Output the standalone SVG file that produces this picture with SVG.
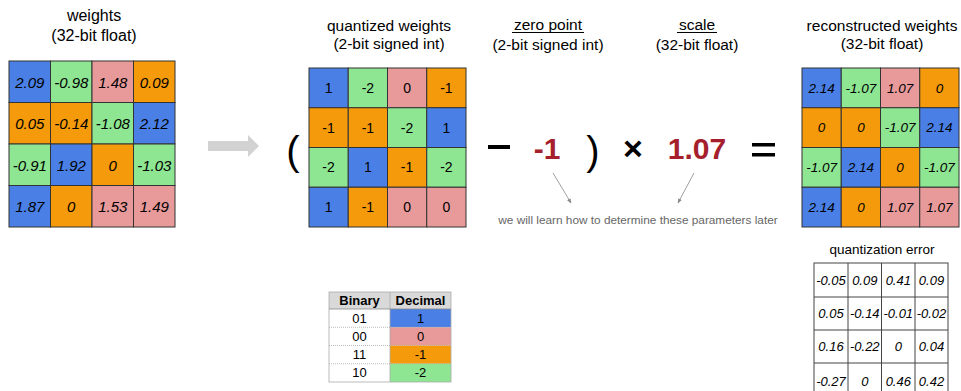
<svg xmlns="http://www.w3.org/2000/svg" width="961" height="391" viewBox="0 0 961 391">
<defs>
<style>
text{font-family:"Liberation Sans",Arial,sans-serif;fill:#000}
.t{font-size:16px;text-anchor:middle}
.ts{font-size:15.5px;text-anchor:middle}
.b{fill:#4a80e6}.g{fill:#8ee592}.p{fill:#e89a9a}.o{fill:#f59a0a}
.c rect{stroke:#333;stroke-width:1}
.fv{font-size:15px;font-style:italic;text-anchor:middle;dominant-baseline:central}
.rv{font-size:13.5px;font-style:italic;text-anchor:middle;dominant-baseline:central}
.iv{font-size:14px;text-anchor:middle;dominant-baseline:central}
.ev{font-size:13px;font-style:italic;text-anchor:middle;dominant-baseline:central}
.op{font-size:40px;text-anchor:middle;dominant-baseline:central}
.red{fill:#a51f2c;font-weight:bold;font-size:30px;text-anchor:middle}
.bt{font-size:13px;text-anchor:middle;dominant-baseline:central}
</style>
<marker id="ah" viewBox="0 0 10 10" refX="9" refY="5" markerWidth="6" markerHeight="6" orient="auto"><path d="M0,1 L10,5 L0,9 z" fill="#888"/></marker>
</defs>

<g id="weights">
<text class="t" x="94" y="21">weights</text>
<text class="t" x="94" y="41">(32-bit float)</text>
<g class="c">
<rect class="b" x="9" y="61" width="41.5" height="41.5"/><rect class="g" x="50.5" y="61" width="41.5" height="41.5"/><rect class="p" x="92" y="61" width="41.5" height="41.5"/><rect class="o" x="133.5" y="61" width="41.5" height="41.5"/>
<rect class="o" x="9" y="102.5" width="41.5" height="41.5"/><rect class="o" x="50.5" y="102.5" width="41.5" height="41.5"/><rect class="g" x="92" y="102.5" width="41.5" height="41.5"/><rect class="b" x="133.5" y="102.5" width="41.5" height="41.5"/>
<rect class="g" x="9" y="144" width="41.5" height="41.5"/><rect class="b" x="50.5" y="144" width="41.5" height="41.5"/><rect class="o" x="92" y="144" width="41.5" height="41.5"/><rect class="g" x="133.5" y="144" width="41.5" height="41.5"/>
<rect class="b" x="9" y="185.5" width="41.5" height="41.5"/><rect class="o" x="50.5" y="185.5" width="41.5" height="41.5"/><rect class="p" x="92" y="185.5" width="41.5" height="41.5"/><rect class="p" x="133.5" y="185.5" width="41.5" height="41.5"/>
</g>
<text class="fv" x="29.75" y="82">2.09</text><text class="fv" x="71.25" y="82">-0.98</text><text class="fv" x="112.75" y="82">1.48</text><text class="fv" x="154.25" y="82">0.09</text>
<text class="fv" x="29.75" y="123.5">0.05</text><text class="fv" x="71.25" y="123.5">-0.14</text><text class="fv" x="112.75" y="123.5">-1.08</text><text class="fv" x="154.25" y="123.5">2.12</text>
<text class="fv" x="29.75" y="165">-0.91</text><text class="fv" x="71.25" y="165">1.92</text><text class="fv" x="112.75" y="165">0</text><text class="fv" x="154.25" y="165">-1.03</text>
<text class="fv" x="29.75" y="206.5">1.87</text><text class="fv" x="71.25" y="206.5">0</text><text class="fv" x="112.75" y="206.5">1.53</text><text class="fv" x="154.25" y="206.5">1.49</text>
</g>

<g id="big-arrow">
<path d="M208,141 H248 V135 L259,146 L248,157 V151 H208 Z" fill="#d2d2d2"/>
</g>

<g id="quantized">
<text class="ts" x="389" y="31">quantized weights</text>
<text class="ts" x="389" y="49">(2-bit signed int)</text>
<g class="c">
<rect class="b" x="309" y="68" width="39.25" height="39.75"/><rect class="g" x="348.25" y="68" width="39.25" height="39.75"/><rect class="p" x="387.5" y="68" width="39.25" height="39.75"/><rect class="o" x="426.75" y="68" width="39.25" height="39.75"/>
<rect class="o" x="309" y="107.75" width="39.25" height="39.75"/><rect class="o" x="348.25" y="107.75" width="39.25" height="39.75"/><rect class="g" x="387.5" y="107.75" width="39.25" height="39.75"/><rect class="b" x="426.75" y="107.75" width="39.25" height="39.75"/>
<rect class="g" x="309" y="147.5" width="39.25" height="39.75"/><rect class="b" x="348.25" y="147.5" width="39.25" height="39.75"/><rect class="o" x="387.5" y="147.5" width="39.25" height="39.75"/><rect class="g" x="426.75" y="147.5" width="39.25" height="39.75"/>
<rect class="b" x="309" y="187.25" width="39.25" height="39.75"/><rect class="o" x="348.25" y="187.25" width="39.25" height="39.75"/><rect class="p" x="387.5" y="187.25" width="39.25" height="39.75"/><rect class="p" x="426.75" y="187.25" width="39.25" height="39.75"/>
</g>
<text class="iv" x="328.6" y="88">1</text><text class="iv" x="367.9" y="88">-2</text><text class="iv" x="407.1" y="88">0</text><text class="iv" x="446.4" y="88">-1</text>
<text class="iv" x="328.6" y="127.6">-1</text><text class="iv" x="367.9" y="127.6">-1</text><text class="iv" x="407.1" y="127.6">-2</text><text class="iv" x="446.4" y="127.6">1</text>
<text class="iv" x="328.6" y="167.4">-2</text><text class="iv" x="367.9" y="167.4">1</text><text class="iv" x="407.1" y="167.4">-1</text><text class="iv" x="446.4" y="167.4">-2</text>
<text class="iv" x="328.6" y="207.1">1</text><text class="iv" x="367.9" y="207.1">-1</text><text class="iv" x="407.1" y="207.1">0</text><text class="iv" x="446.4" y="207.1">0</text>
</g>

<g id="operators">
<text class="op" x="293" y="151">(</text>
<rect x="488" y="145" width="22" height="4" fill="#000"/>
<text class="op" x="593" y="151">)</text>
<text x="633" y="160" font-size="34" font-weight="bold" text-anchor="middle">×</text>
<rect x="752" y="143" width="23" height="3.5" fill="#000"/>
<rect x="752" y="153" width="23" height="3.5" fill="#000"/>
</g>

<g id="zero-point">
<text class="ts" x="548" y="30">zero point</text>
<rect x="512" y="32" width="72" height="1" fill="#000"/>
<text class="ts" x="548" y="50">(2-bit signed int)</text>
<text class="red" x="547" y="159">-1</text>
</g>

<g id="scale">
<text class="ts" x="697" y="30">scale</text>
<rect x="677" y="32" width="40" height="1" fill="#000"/>
<text class="ts" x="697" y="50">(32-bit float)</text>
<text class="red" x="697" y="159">1.07</text>
</g>

<g id="note">
<text x="638" y="224" font-size="11.8" style="fill:#666" text-anchor="middle">we will learn how to determine these parameters later</text>
</g>

<g id="connectors" stroke="#888" stroke-width="0.8" fill="none">
<line x1="553" y1="173" x2="571" y2="203" marker-end="url(#ah)"/>
<line x1="694" y1="173" x2="678" y2="203" marker-end="url(#ah)"/>
</g>

<g id="reconstructed">
<text class="ts" x="882" y="31">reconstructed weights</text>
<text class="ts" x="882" y="49">(32-bit float)</text>
<g class="c">
<rect class="b" x="802" y="68" width="39.25" height="39.75"/><rect class="g" x="841.25" y="68" width="39.25" height="39.75"/><rect class="p" x="880.5" y="68" width="39.25" height="39.75"/><rect class="o" x="919.75" y="68" width="39.25" height="39.75"/>
<rect class="o" x="802" y="107.75" width="39.25" height="39.75"/><rect class="o" x="841.25" y="107.75" width="39.25" height="39.75"/><rect class="g" x="880.5" y="107.75" width="39.25" height="39.75"/><rect class="b" x="919.75" y="107.75" width="39.25" height="39.75"/>
<rect class="g" x="802" y="147.5" width="39.25" height="39.75"/><rect class="b" x="841.25" y="147.5" width="39.25" height="39.75"/><rect class="o" x="880.5" y="147.5" width="39.25" height="39.75"/><rect class="g" x="919.75" y="147.5" width="39.25" height="39.75"/>
<rect class="b" x="802" y="187.25" width="39.25" height="39.75"/><rect class="o" x="841.25" y="187.25" width="39.25" height="39.75"/><rect class="p" x="880.5" y="187.25" width="39.25" height="39.75"/><rect class="p" x="919.75" y="187.25" width="39.25" height="39.75"/>
</g>
<text class="rv" x="821.6" y="88">2.14</text><text class="rv" x="860.9" y="88">-1.07</text><text class="rv" x="900.1" y="88">1.07</text><text class="rv" x="939.4" y="88">0</text>
<text class="rv" x="821.6" y="127.6">0</text><text class="rv" x="860.9" y="127.6">0</text><text class="rv" x="900.1" y="127.6">-1.07</text><text class="rv" x="939.4" y="127.6">2.14</text>
<text class="rv" x="821.6" y="167.4">-1.07</text><text class="rv" x="860.9" y="167.4">2.14</text><text class="rv" x="900.1" y="167.4">0</text><text class="rv" x="939.4" y="167.4">-1.07</text>
<text class="rv" x="821.6" y="207.1">2.14</text><text class="rv" x="860.9" y="207.1">0</text><text class="rv" x="900.1" y="207.1">1.07</text><text class="rv" x="939.4" y="207.1">1.07</text>
</g>

<g id="quantization-error">
<text x="882" y="254" font-size="13.5" text-anchor="middle">quantization error</text>
<g fill="none" stroke="#444" stroke-width="1">
<rect x="814" y="263" width="134" height="140"/>
<line x1="848" y1="263" x2="848" y2="391"/><line x1="881.5" y1="263" x2="881.5" y2="391"/><line x1="915" y1="263" x2="915" y2="391"/>
<line x1="814" y1="297" x2="948" y2="297"/><line x1="814" y1="330" x2="948" y2="330"/><line x1="814" y1="363" x2="948" y2="363"/>
</g>
<text class="ev" x="831" y="280">-0.05</text><text class="ev" x="864.8" y="280">0.09</text><text class="ev" x="898.3" y="280">0.41</text><text class="ev" x="931.5" y="280">0.09</text>
<text class="ev" x="831" y="313.5">0.05</text><text class="ev" x="864.8" y="313.5">-0.14</text><text class="ev" x="898.3" y="313.5">-0.01</text><text class="ev" x="931.5" y="313.5">-0.02</text>
<text class="ev" x="831" y="346.5">0.16</text><text class="ev" x="864.8" y="346.5">-0.22</text><text class="ev" x="898.3" y="346.5">0</text><text class="ev" x="931.5" y="346.5">0.04</text>
<text class="ev" x="831" y="381">-0.27</text><text class="ev" x="864.8" y="381">0</text><text class="ev" x="898.3" y="381">0.46</text><text class="ev" x="931.5" y="381">0.42</text>
</g>

<g id="binary-table">
<rect x="329" y="292" width="122" height="17" fill="#d9d9d9"/>
<rect x="329" y="309" width="61" height="73" fill="#fff"/>
<rect class="b" x="390" y="309" width="61" height="18.25"/>
<rect class="p" x="390" y="327.25" width="61" height="18.25"/>
<rect class="o" x="390" y="345.5" width="61" height="18.25"/>
<rect class="g" x="390" y="363.75" width="61" height="18.25"/>
<g fill="none" stroke="#aaa" stroke-width="0.8">
<rect x="329" y="292" width="122" height="90"/>
<line x1="390" y1="292" x2="390" y2="382"/>
<line x1="329" y1="309" x2="451" y2="309" stroke="#888"/>
<line x1="329" y1="327.25" x2="451" y2="327.25" stroke-dasharray="1,1"/>
<line x1="329" y1="345.5" x2="451" y2="345.5" stroke-dasharray="1,1"/>
<line x1="329" y1="363.75" x2="451" y2="363.75" stroke-dasharray="1,1"/>
</g>
<text class="bt" x="359.5" y="300.5" font-weight="bold">Binary</text><text class="bt" x="420.5" y="300.5" font-weight="bold">Decimal</text>
<text class="bt" x="359.5" y="318.1">01</text><text class="bt" x="420.5" y="318.1">1</text>
<text class="bt" x="359.5" y="336.4">00</text><text class="bt" x="420.5" y="336.4">0</text>
<text class="bt" x="359.5" y="354.6">11</text><text class="bt" x="420.5" y="354.6">-1</text>
<text class="bt" x="359.5" y="372.9">10</text><text class="bt" x="420.5" y="372.9">-2</text>
</g>
</svg>
